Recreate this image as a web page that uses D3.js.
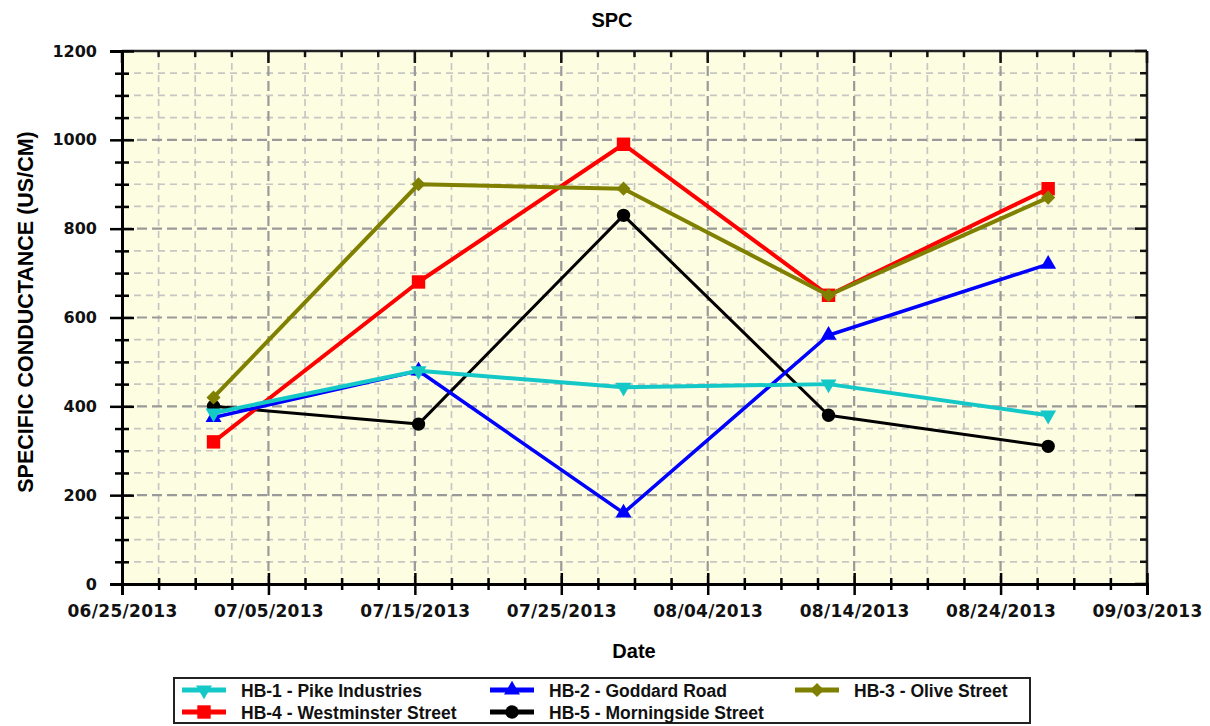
<!DOCTYPE html>
<html><head><meta charset="utf-8">
<script src="https://cdn.jsdelivr.net/npm/d3@7"></script>
<style>body{margin:0;background:#fff}</style></head>
<body>
<svg id="c" width="1210" height="726"></svg>
<script>
// ---- data ----
const chartTitle = "SPC";
const xTitle = "Date";
const yTitle = "SPECIFIC CONDUCTANCE (US/CM)";
const sampleDates = ["2013-07-01T06:00:00Z","2013-07-15T06:00:00Z","2013-07-29T06:00:00Z","2013-08-12T06:00:00Z","2013-08-27T06:00:00Z"];
const seriesNames = ["HB-1 - Pike Industries","HB-2 - Goddard Road","HB-3 - Olive Street","HB-4 - Westminster Street","HB-5 - Morningside Street"];
const hb1 = [385, 480, 443, 450, 380];
const hb2 = [375, 480, 160, 560, 720];
const hb3 = [420, 900, 890, 650, 870];
const hb4 = [320, 680, 990, 650, 890];
const hb5 = [400, 360, 830, 380, 310];
const xTickLabels = ["06/25/2013","07/05/2013","07/15/2013","07/25/2013","08/04/2013","08/14/2013","08/24/2013","09/03/2013"];
const yTickValues = [0, 200, 400, 600, 800, 1000, 1200];

// ---- styles ----
const colors = ["#14c8c8", "#0000ff", "#808000", "#ff0000", "#000000"];
const widths = [4, 3.5, 4, 4, 3];
const seriesValues = [hb1, hb2, hb3, hb4, hb5];

const svg = d3.select("#c");
const L = 122, R = 1147, T = 51, B = 584;
const parseMDY = d3.utcParse("%m/%d/%Y");
const xTickDates = xTickLabels.map(parseMDY);
const x = d3.scaleUtc().domain([xTickDates[0], xTickDates[xTickDates.length - 1]]).range([L, R]);
const y = d3.scaleLinear().domain([0, 1200]).range([B, T]);

// plot background
svg.append("rect").attr("x", L).attr("y", T).attr("width", R - L).attr("height", B - T).attr("fill", "#fdfde2");

// minor grid / ticks
const dayMs = 86400000;
const minorX = [];
for (let i = 0; i < xTickDates.length - 1; i++) {
  for (let k = 1; k < 4; k++) minorX.push(new Date(xTickDates[i].getTime() + k * 2.5 * dayMs));
}
const minorY = [];
for (let v = 50; v < 1200; v += 50) if (v % 200 !== 0) minorY.push(v);

const grid = svg.append("g");
grid.selectAll(".mx").data(minorX).enter().append("line")
  .attr("x1", d => x(d)).attr("x2", d => x(d)).attr("y1", T).attr("y2", B)
  .attr("stroke", "#c6c6c2").attr("stroke-width", 1.7).attr("stroke-dasharray", "7,5");
grid.selectAll(".my").data(minorY).enter().append("line")
  .attr("x1", L).attr("x2", R).attr("y1", d => y(d)).attr("y2", d => y(d))
  .attr("stroke", "#c6c6c2").attr("stroke-width", 1.7).attr("stroke-dasharray", "7,5");
grid.selectAll(".Mx").data(xTickDates.slice(1, -1)).enter().append("line")
  .attr("x1", d => x(d)).attr("x2", d => x(d)).attr("y1", T).attr("y2", B)
  .attr("stroke", "#9a9a9a").attr("stroke-width", 2.2).attr("stroke-dasharray", "10,5");
grid.selectAll(".My").data(yTickValues.slice(1, -1)).enter().append("line")
  .attr("x1", L).attr("x2", R).attr("y1", d => y(d)).attr("y2", d => y(d))
  .attr("stroke", "#9a9a9a").attr("stroke-width", 2.2).attr("stroke-dasharray", "10,5");

// top/right frame with inward ticks
svg.append("line").attr("x1", L).attr("x2", R).attr("y1", T).attr("y2", T).attr("stroke", "#222").attr("stroke-width", 2.5);
svg.append("line").attr("x1", R).attr("x2", R).attr("y1", T).attr("y2", B).attr("stroke", "#222").attr("stroke-width", 2.5);
const fr = svg.append("g").attr("stroke", "#111").attr("stroke-width", 2.5);
xTickDates.forEach(d => fr.append("line").attr("x1", x(d)).attr("x2", x(d)).attr("y1", T).attr("y2", T + 12));
minorX.forEach(d => fr.append("line").attr("x1", x(d)).attr("x2", x(d)).attr("y1", T).attr("y2", T + 6));
yTickValues.forEach(v => fr.append("line").attr("x1", R - 12).attr("x2", R).attr("y1", y(v)).attr("y2", y(v)));
minorY.forEach(v => fr.append("line").attr("x1", R - 7).attr("x2", R).attr("y1", y(v)).attr("y2", y(v)));

// left axis
const yAxis = svg.append("g").attr("transform", `translate(${L},0)`)
  .call(d3.axisLeft(y).tickValues(yTickValues).tickFormat(d3.format("d")).tickSize(12).tickPadding(13));
yAxis.select(".domain").attr("stroke", "#000").attr("stroke-width", 3);
yAxis.selectAll(".tick line").attr("x2", -12).attr("x1", 12).attr("stroke", "#000").attr("stroke-width", 2.5);
yAxis.selectAll(".tick text").attr("font-family", "DejaVu Sans").attr("font-weight", "bold").attr("font-size", 16).attr("fill", "#111");
const yMinor = svg.append("g").attr("transform", `translate(${L},0)`)
  .call(d3.axisLeft(y).tickValues(minorY).tickFormat("").tickSize(0));
yMinor.select(".domain").remove();
yMinor.selectAll(".tick line").attr("x1", -7).attr("x2", 7).attr("stroke", "#000").attr("stroke-width", 2.5);

// bottom axis
const xAxis = svg.append("g").attr("transform", `translate(0,${B})`)
  .call(d3.axisBottom(x).tickValues(xTickDates).tickFormat(d3.utcFormat("%m/%d/%Y")).tickSize(11).tickPadding(10));
xAxis.select(".domain").attr("stroke", "#000").attr("stroke-width", 3);
xAxis.selectAll(".tick line").attr("y1", -11).attr("y2", 11).attr("stroke", "#000").attr("stroke-width", 2.5);
xAxis.selectAll(".tick text").attr("font-family", "DejaVu Sans").attr("font-weight", "bold").attr("font-size", 17).attr("fill", "#111").attr("letter-spacing", 0.3);
const xMinor = svg.append("g").attr("transform", `translate(0,${B})`)
  .call(d3.axisBottom(x).tickValues(minorX).tickFormat("").tickSize(0));
xMinor.select(".domain").remove();
xMinor.selectAll(".tick line").attr("y1", -6).attr("y2", 6).attr("stroke", "#000").attr("stroke-width", 2.5);

// titles
svg.append("text").attr("x", 612).attr("y", 27).attr("text-anchor", "middle")
  .attr("font-family", "Liberation Sans, Arial, sans-serif").attr("font-weight", "bold").attr("font-size", 20).text(chartTitle);
svg.append("text").attr("x", 634).attr("y", 658).attr("text-anchor", "middle")
  .attr("font-family", "Liberation Sans, Arial, sans-serif").attr("font-weight", "bold").attr("font-size", 20).text(xTitle);
svg.append("text").attr("transform", "translate(33,312) rotate(-90)").attr("text-anchor", "middle")
  .attr("font-family", "Liberation Sans, Arial, sans-serif").attr("font-weight", "bold").attr("font-size", 21.5).text(yTitle);

// markers
const sym = [
  {type: d3.symbolTriangle, size: 110, rot: 180},
  {type: d3.symbolTriangle, size: 110, rot: 0},
  {type: d3.symbolSquare, size: 100, rot: 45},
  {type: d3.symbolSquare, size: 180, rot: 0},
  {type: d3.symbolCircle, size: 140, rot: 0}
];
function marker(g, i, cx, cy) {
  g.append("path").attr("d", d3.symbol().type(sym[i].type).size(sym[i].size)())
    .attr("transform", `translate(${cx},${cy}) rotate(${sym[i].rot})`).attr("fill", colors[i]);
}

const dates = sampleDates.map(d => new Date(d));
const line = d3.line().x(d => x(d.date)).y(d => y(d.v));
const plot = svg.append("g");
for (let i = seriesValues.length - 1; i >= 0; i--) {
  const pts = seriesValues[i].map((v, k) => ({date: dates[k], v}));
  const g = plot.append("g");
  g.append("path").datum(pts).attr("d", line).attr("fill", "none")
    .attr("stroke", colors[i]).attr("stroke-width", widths[i]).attr("stroke-linejoin", "round");
  pts.forEach(p => marker(g, i, x(p.date), y(p.v)));
}

// legend
const lg = svg.append("g");
lg.append("rect").attr("x", 174).attr("y", 678).attr("width", 856).attr("height", 45)
  .attr("fill", "#fff").attr("stroke", "#222").attr("stroke-width", 2);
const colX = [182, 490, 795];
seriesNames.forEach((name, i) => {
  const cx = colX[i % 3], cy = i < 3 ? 690 : 712;
  lg.append("line").attr("x1", cx).attr("x2", cx + 44).attr("y1", cy).attr("y2", cy)
    .attr("stroke", colors[i]).attr("stroke-width", 5);
  marker(lg, i, cx + 22, cy);
  lg.append("text").attr("x", cx + 59).attr("y", cy + 7)
    .attr("font-family", "Liberation Sans, Arial, sans-serif").attr("font-weight", "bold").attr("font-size", 17.5)
    .attr("fill", "#111").text(name);
});
</script>
</body></html>
